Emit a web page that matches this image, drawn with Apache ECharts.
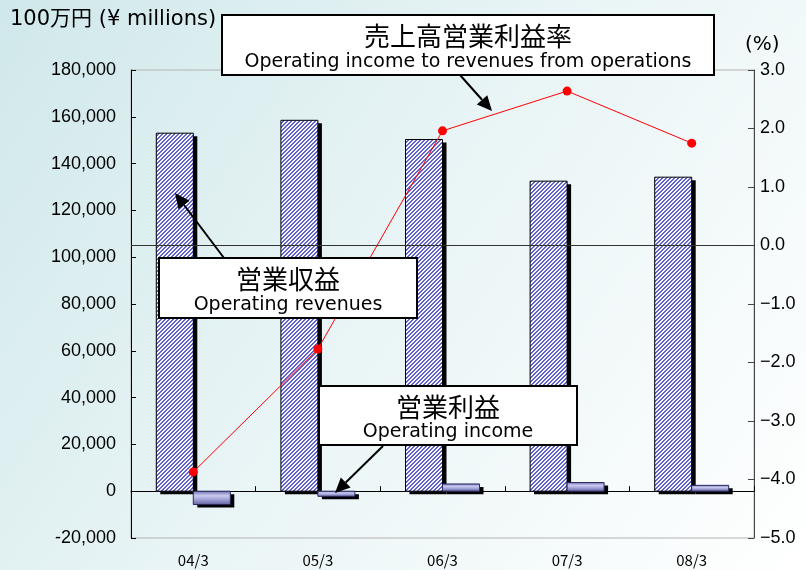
<!DOCTYPE html>
<html><head><meta charset="utf-8">
<script src="https://cdn.jsdelivr.net/npm/echarts@6/dist/echarts.min.js"></script>
<style>html,body{margin:0;padding:0;background:#fff}#c{width:806px;height:570px;}</style>
</head><body><div id="c"></div>
<script>
// ---- data ----
const categories = ['04/3', '05/3', '06/3', '07/3', '08/3'];
const operatingRevenues = [153000, 158500, 150300, 132500, 134200];   // 100万円
const operatingIncome = [-5700, -2200, 3100, 3700, 2500];             // 100万円
const incomeToRevenuesPct = [-3.87, -1.77, 1.96, 2.64, 1.75];         // %
const leftAxisRange = { min: -20000, max: 180000, interval: 20000 };
const rightAxisRange = { min: -5, max: 3, interval: 1 };

// ---- pattern for revenue bars ----
function hatch() {
  const c = document.createElement('canvas');
  c.width = 4; c.height = 4;
  const g = c.getContext('2d');
  g.fillStyle = '#f6f6ff'; g.fillRect(0, 0, 4, 4);
  g.fillStyle = '#6262cc';
  for (let i = 0; i < 4; i++) {
    g.fillRect(i, 3 - i, 1, 1);
    g.fillRect(i, (4 - i) % 4, 1, 1);
  }
  return c;
}
const hatchCanvas = hatch();

const latin = '"Liberation Sans", Arial, "Noto Sans CJK JP", sans-serif';
const boxLatin = '"DejaVu Sans", "Liberation Sans", "Noto Sans CJK JP", sans-serif';
const cjk = '"Noto Sans CJK JP", sans-serif';
const BAR_W = 37;

function barRenderer(side, styleFn) {
  return function (params, api) {
    const idx = api.value(0), v = api.value(1);
    const p0 = api.coord([idx, 0]);
    const p1 = api.coord([idx, v]);
    const x = side < 0 ? p0[0] - BAR_W : p0[0];
    const y = Math.min(p0[1], p1[1]);
    const h = Math.abs(p1[1] - p0[1]);
    return {
      type: 'group', children: [
        { type: 'rect', shape: { x: x + 4, y: y + 3, width: BAR_W, height: h }, style: { fill: '#000' } },
        { type: 'rect', shape: { x: x, y: y, width: BAR_W, height: h }, style: styleFn() }
      ]
    };
  };
}

function arrow(x1, y1, x2, y2) {
  const L = 15, W = 7;
  const dx = x2 - x1, dy = y2 - y1, d = Math.hypot(dx, dy);
  const ux = dx / d, uy = dy / d;
  const bx = x2 - ux * L, by = y2 - uy * L;
  return [
    { type: 'line', z: 100, shape: { x1: x1, y1: y1, x2: bx, y2: by }, style: { stroke: '#000', lineWidth: 2 } },
    { type: 'polygon', z: 100, shape: { points: [[x2, y2], [bx - uy * W, by + ux * W], [bx + uy * W, by - ux * W]] }, style: { fill: '#000' } }
  ];
}

function box(x, y, w, h, jp, en) {
  return [
    { type: 'rect', z: 100, shape: { x: x, y: y, width: w, height: h }, style: { fill: '#fff', stroke: '#000', lineWidth: 2 } },
    { type: 'text', z: 101, style: { text: jp, x: x + w / 2, y: y + h * 0.36, font: '26px ' + cjk, fill: '#000', align: 'center', verticalAlign: 'middle', textAlign: 'center', textVerticalAlign: 'middle' } },
    { type: 'text', z: 101, style: { text: en, x: x + w / 2, y: y + h * 0.78, font: '19px ' + boxLatin, fill: '#000', align: 'center', verticalAlign: 'middle', textAlign: 'center', textVerticalAlign: 'middle' } }
  ];
}

const chart = echarts.init(document.getElementById('c'), null, { renderer: 'canvas' });

const option = {
  animation: false,
  backgroundColor: {
    type: 'linear', x: 0, y: 0, x2: 1, y2: 1,
    colorStops: [{ offset: 0, color: '#d0e8eb' }, { offset: 0.5, color: '#eaf5f6' }, { offset: 1, color: '#ffffff' }]
  },
  grid: { left: 131, right: 52, top: 70, bottom: 32, show: true, borderColor: '#b4b4b4', borderWidth: 1, backgroundColor: 'transparent' },
  xAxis: [
    {
      type: 'category', data: categories, position: 'bottom',
      axisLine: { show: false, onZero: false }, axisTick: { show: false },
      axisLabel: { fontSize: 15, color: '#000', margin: 15, fontFamily: cjk }
    },
    {
      type: 'category', data: categories, position: 'bottom',
      axisLine: { show: true, onZero: true, onZeroAxisIndex: 0, lineStyle: { color: '#000', width: 1 } },
      axisTick: { show: true, inside: true, length: 5, lineStyle: { color: '#000' } },
      axisLabel: { show: false }
    }
  ],
  yAxis: [
    {
      type: 'value', min: leftAxisRange.min, max: leftAxisRange.max, interval: leftAxisRange.interval,
      axisLine: { show: true, lineStyle: { color: '#000' } },
      axisTick: { show: true, inside: true, length: 5, lineStyle: { color: '#000' } },
      splitLine: { show: false },
      axisLabel: { fontSize: 18, color: '#000', margin: 15, fontFamily: latin,
        formatter: v => v.toLocaleString('en-US') }
    },
    {
      type: 'value', position: 'right', min: rightAxisRange.min, max: rightAxisRange.max, interval: rightAxisRange.interval,
      axisLine: { show: true, lineStyle: { color: '#444' } },
      axisTick: { show: true, inside: true, length: 6, lineStyle: { color: '#444' } },
      splitLine: { show: false },
      axisLabel: { fontSize: 18, color: '#000', margin: 6, fontFamily: latin,
        formatter: v => v.toFixed(1).replace('-', '\u2212') }
    }
  ],
  series: [
    {
      name: 'zero', type: 'line', yAxisIndex: 1, data: [], z: 1, silent: true,
      markLine: { symbol: 'none', silent: true, label: { show: false },
        lineStyle: { color: '#333', width: 1, type: 'solid' }, data: [{ yAxis: 0 }] }
    },
    {
      name: '営業収益', type: 'custom', z: 2,
      data: operatingRevenues.map((v, i) => [i, v]),
      encode: { x: 0, y: 1 },
      renderItem: barRenderer(-1, () => ({ fill: { image: hatchCanvas, repeat: 'repeat' }, stroke: '#000', lineWidth: 1 }))
    },
    {
      name: '営業利益', type: 'custom', z: 2,
      data: operatingIncome.map((v, i) => [i, v]),
      encode: { x: 0, y: 1 },
      renderItem: barRenderer(1, () => ({
        fill: { type: 'linear', x: 0, y: 0, x2: 0, y2: 1, colorStops: [
          { offset: 0, color: '#6a6aae' }, { offset: 0.35, color: '#cacaf0' },
          { offset: 0.6, color: '#a4a4d8' }, { offset: 1, color: '#5e5e9c' }] },
        stroke: '#2a2a60', lineWidth: 1 }))
    },
    {
      name: '売上高営業利益率', type: 'line', yAxisIndex: 1, data: incomeToRevenuesPct, z: 5,
      symbol: 'circle', symbolSize: 9,
      lineStyle: { color: '#ff0000', width: 1 }, itemStyle: { color: '#ff0000' }
    }
  ],
  graphic: [
    { type: 'text', z: 50, style: { text: '100万円 (¥ millions)', x: 10, y: 20, font: '21px ' + boxLatin, fill: '#000', verticalAlign: 'middle', textVerticalAlign: 'middle' } },
    { type: 'text', z: 50, style: { text: '(%)', x: 745, y: 45, font: '20px ' + boxLatin, fill: '#000', verticalAlign: 'middle', textVerticalAlign: 'middle' } },
    ...arrow(460, 75, 492, 111),
    ...arrow(224, 258, 175, 193),
    ...arrow(383, 446, 335, 493),
    ...box(222, 15, 492, 60, '売上高営業利益率', 'Operating income to revenues from operations'),
    ...box(159, 258, 258, 60, '営業収益', 'Operating revenues'),
    ...box(319, 386, 258, 59, '営業利益', 'Operating income')
  ]
};
chart.setOption(option);
</script>
</body></html>
